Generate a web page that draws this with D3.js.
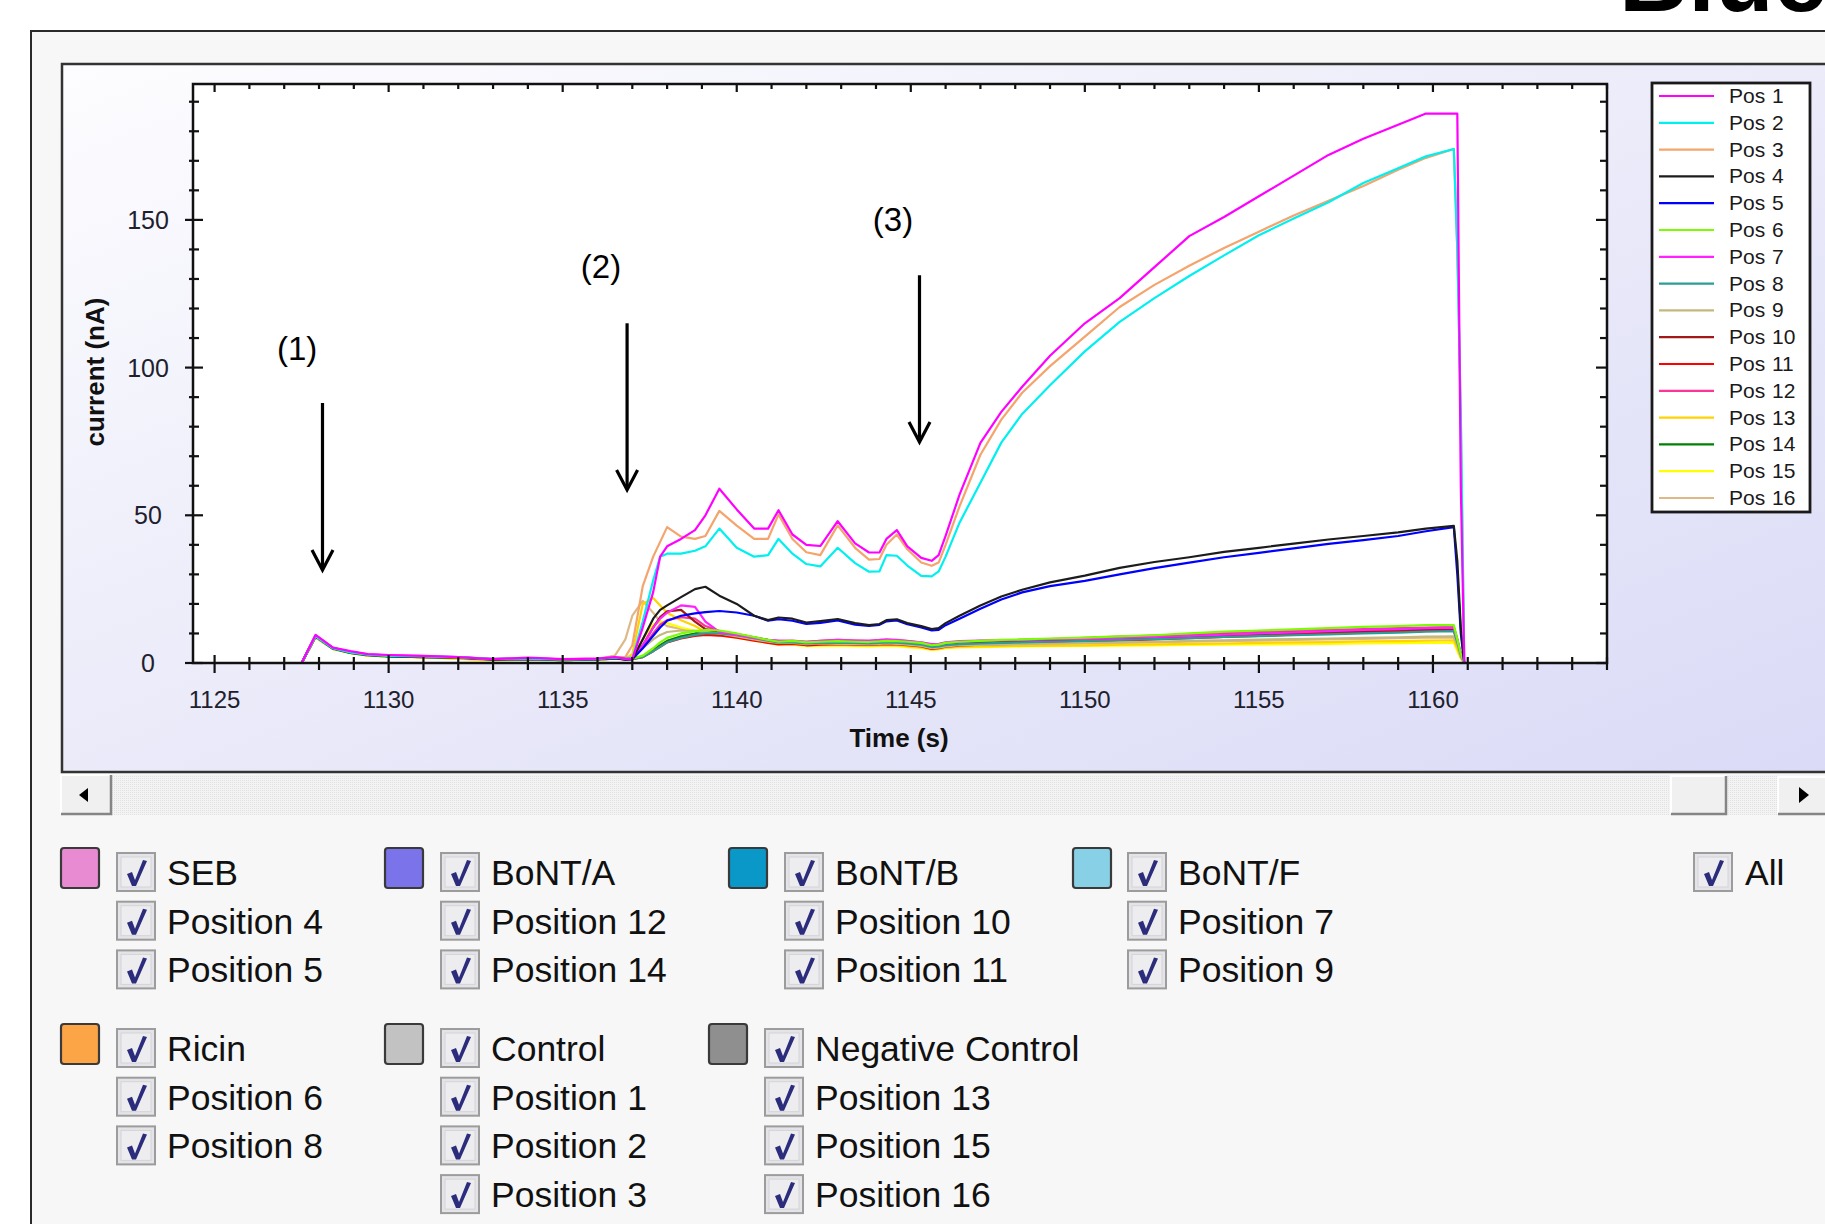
<!DOCTYPE html>
<html>
<head>
<meta charset="utf-8">
<script src="https://cdn.jsdelivr.net/npm/d3@7"></script>
<style>
  html, body { margin: 0; padding: 0; background: #ffffff; }
  svg { display: block; }
  text { font-family: "Liberation Sans", Arial, sans-serif; }
</style>
</head>
<body>
<script>
// ---------------- DATA ----------------
const times = [1127.5, 1127.9, 1128.4, 1128.9, 1129.4, 1130.0, 1131.0, 1132.0, 1133.0, 1134.0, 1135.0, 1136.0, 1136.5,
  1136.8, 1137.0, 1137.3, 1137.6, 1137.8, 1138.0, 1138.4, 1138.8, 1139.1, 1139.5, 1140.0, 1140.5, 1140.9, 1141.2, 1141.6,
  1142.0, 1142.4, 1142.9, 1143.4, 1143.8, 1144.1, 1144.3, 1144.6, 1144.9, 1145.3, 1145.6, 1145.8, 1146.0, 1146.4, 1147.0,
  1147.6, 1148.2, 1149.0, 1150.0, 1151.0, 1152.0, 1153.0, 1154.0, 1155.0, 1156.0, 1157.0, 1158.0, 1159.0, 1159.8, 1160.6,
  1160.7, 1160.8, 1160.9];

const pos1 = [0, 9.5, 5.2, 4.0, 3.0, 2.7, 2.4, 2.0, 1.3, 1.8, 1.3, 1.5, 2.0,
  1.5, 1.3, 12, 24, 36, 39.5, 42, 45, 50, 59, 52, 45.5, 45.5, 51.7, 43.5, 40, 39.6, 48, 40.5, 37.4, 37.4, 42, 45, 39.5, 35.6, 34.6, 36.5, 43, 57, 74.5, 85, 93.5, 104, 115, 123.5, 134, 144.5, 151, 158, 165, 172, 177.5, 182.2, 186, 186, 186, 60, 0];
const pos2 = [0, 9.2, 5.0, 3.6, 2.8, 2.4, 2.3, 2.0, 1.4, 1.5, 1.2, 1.4, 1.8,
  1.5, 1.5, 14, 28, 36, 37, 37, 38, 39.5, 45.5, 39, 36, 36.5, 42, 37, 33.5, 32.7, 39, 33.8, 30.9, 31, 36.5, 36.3, 33, 29.5, 29.3, 31, 36, 47.5, 61, 74.6, 84.3, 94, 105.5, 115.5, 123.5, 131, 138, 144.8, 150.5, 156, 162.5, 167.5, 171.5, 174, 140, 84, 0];
const pos3 = [0, 9.0, 5.1, 3.7, 2.9, 2.5, 2.2, 1.9, 1.4, 1.6, 1.2, 1.5, 2.0,
  2, 6, 26, 36, 41, 46, 42.8, 42, 43, 51.5, 46.5, 42, 42, 50.3, 42, 37.5, 36.5, 46.6, 39, 35, 35.2, 40, 43.5, 38.5, 34, 32.9, 34, 40, 53, 70.5, 82.4, 91.5, 100.5, 110.5, 120.5, 128, 134.5, 140.5, 146, 151.5, 156.5, 161.5, 167, 171, 174, 140, 84, 0];
const pos4 = [0, 9.1, 5.0, 3.5, 2.7, 2.3, 2.1, 1.8, 1.2, 1.4, 1.1, 1.3, 1.6,
  1.2, 1.3, 8, 15, 18, 19.5, 22.3, 25, 25.8, 22.8, 20, 16, 14.5, 15.4, 15, 13.7, 14.2, 14.9, 13.5, 12.8, 13.2, 14.5, 14.8, 13.5, 12.5, 11.5, 11.8, 13.5, 16, 19.5, 22.5, 24.8, 27.3, 29.6, 32.2, 34.2, 35.8, 37.6, 39, 40.4, 41.8, 43, 44.2, 45.5, 46.4, 34.6, 12, 0];
const pos5 = [0, 9.0, 4.9, 3.5, 2.7, 2.3, 2.1, 1.9, 1.2, 1.4, 1.1, 1.3, 1.6,
  1.2, 1.3, 5, 9.2, 12, 14.3, 16, 16.8, 17.2, 17.6, 17.1, 16, 14.3, 14.8, 14.3, 13.2, 13.6, 14.4, 13, 12.6, 12.9, 14.1, 14.4, 13.1, 12, 11, 11.2, 12.8, 15, 18.4, 21.5, 23.9, 26, 27.8, 30, 32.1, 34, 35.8, 37.3, 38.8, 40.3, 41.6, 43, 44.6, 46, 30, 10, 0];
const pos6 = [0, 8.8, 4.8, 3.4, 2.6, 2.2, 2.0, 1.7, 1.1, 1.3, 1.0, 1.2, 1.5,
  1.4, 1.5, 2.5, 5, 7, 8.5, 10, 10.8, 11.2, 11, 10, 8.8, 7.8, 7.2, 7.5, 7, 7.2, 7.4, 7.2, 7.1, 7.3, 7.5, 7.4, 7.2, 6.8, 6, 6.2, 6.8, 7.2, 7.5, 7.8, 8, 8.3, 8.6, 9, 9.4, 10, 10.6, 11, 11.4, 11.8, 12.2, 12.5, 12.8, 12.8, 8, 3, 0];
const pos7 = [0, 9.4, 5.1, 3.8, 2.9, 2.6, 2.3, 2.0, 1.3, 1.7, 1.2, 1.5, 1.9,
  1.5, 1.6, 6, 12, 15, 17, 19.5, 19, 14, 10.5, 9.5, 8.5, 7.8, 7.6, 7.4, 7.2, 7.5, 7.8, 7.6, 7.6, 7.8, 8, 7.8, 7.5, 7, 6.4, 6.5, 7, 7.4, 7.6, 7.7, 7.8, 8, 8.2, 8.5, 8.8, 9.2, 9.6, 10, 10.4, 10.8, 11.2, 11.5, 11.8, 12, 8, 3, 0];
const pos8 = [0, 8.9, 4.9, 3.5, 2.7, 2.3, 2.0, 1.8, 1.2, 1.4, 1.0, 1.2, 1.5,
  1.3, 1.4, 2, 4, 5.5, 7, 8.5, 9.5, 10, 10, 9.4, 8.4, 7.6, 7, 7, 6.6, 6.8, 6.9, 6.8, 6.6, 6.8, 7, 6.9, 6.6, 6.2, 5.4, 5.6, 6, 6.4, 6.6, 6.8, 7, 7.2, 7.5, 7.8, 8.1, 8.4, 8.8, 9.1, 9.4, 9.7, 10, 10.3, 10.6, 10.8, 7, 3, 0];
const pos9 = [0, 8.7, 4.8, 3.4, 2.6, 2.2, 2.0, 1.7, 1.1, 1.3, 1.0, 1.2, 1.6,
  1.6, 2, 5, 8, 9.5, 10.5, 11, 10.8, 10.5, 10, 9, 8, 7.2, 6.8, 6.8, 6.4, 6.6, 6.5, 6.4, 6.3, 6.5, 6.6, 6.5, 6.2, 5.8, 5, 5.2, 5.6, 6, 6.1, 6.2, 6.4, 6.6, 6.8, 7, 7.2, 7.5, 7.7, 7.9, 8.1, 8.3, 8.5, 8.7, 8.9, 9, 6, 2, 0];
const pos10 = [0, 9.0, 5.0, 3.5, 2.7, 2.3, 2.1, 1.8, 1.2, 1.4, 1.1, 1.3, 1.6,
  1.3, 1.5, 6, 12, 15.5, 17.5, 18, 14, 11.5, 10.5, 9.5, 8.2, 7.2, 6.8, 7, 6.5, 6.7, 6.8, 6.6, 6.6, 6.8, 7, 6.8, 6.5, 6, 5.2, 5.4, 6, 6.5, 6.8, 7, 7.2, 7.5, 7.9, 8.3, 8.7, 9.1, 9.5, 9.9, 10.3, 10.6, 10.9, 11.2, 11.5, 11.6, 7, 3, 0];
const pos11 = [0, 8.9, 4.9, 3.4, 2.6, 2.2, 2.0, 1.7, 1.1, 1.3, 1.0, 1.2, 1.5,
  1.2, 1.3, 2, 4, 5.5, 7, 8.3, 9.2, 9.5, 9.3, 8.6, 7.6, 6.8, 6.3, 6.5, 6, 6.2, 6.4, 6.2, 6.1, 6.3, 6.4, 6.3, 6, 5.6, 4.8, 5, 5.5, 5.9, 6.2, 6.4, 6.6, 6.9, 7.2, 7.6, 8, 8.4, 8.8, 9.2, 9.6, 10, 10.3, 10.6, 10.9, 11, 7, 3, 0];
const pos12 = [0, 9.2, 5.1, 3.6, 2.8, 2.4, 2.2, 1.9, 1.3, 1.5, 1.2, 1.4, 1.7,
  1.4, 1.5, 5, 10, 13, 14.5, 15.5, 15, 12.5, 10.8, 9.6, 8.6, 7.8, 7.4, 7.6, 7.2, 7.5, 7.8, 7.6, 7.4, 7.6, 7.8, 7.7, 7.4, 6.9, 6.2, 6.3, 6.8, 7.2, 7.5, 7.6, 7.8, 8.1, 8.5, 8.9, 9.3, 9.7, 10.1, 10.5, 10.9, 11.2, 11.5, 11.8, 12, 12.2, 8, 3, 0];
const pos13 = [0, 8.8, 4.8, 3.4, 2.6, 2.2, 2.0, 1.5, 1.0, 1.2, 1.0, 1.2, 1.6,
  1.5, 3, 20, 22, 19.5, 17, 14.5, 12.5, 10.5, 9.5, 8.8, 7.8, 7, 6.5, 6.6, 6, 6.1, 6.2, 6, 5.9, 6, 6.1, 6, 5.7, 5.3, 4.6, 4.8, 5.2, 5.5, 5.6, 5.7, 5.8, 5.9, 6, 6.2, 6.3, 6.5, 6.6, 6.8, 7, 7.1, 7.3, 7.4, 7.6, 7.7, 5, 2, 0];
const pos14 = [0, 8.9, 4.9, 3.5, 2.7, 2.3, 2.0, 1.8, 1.2, 1.4, 1.0, 1.2, 1.5,
  1.3, 1.4, 2.2, 4.5, 6, 7.5, 9, 10, 10.6, 10.6, 9.8, 8.7, 7.8, 7.2, 7.2, 6.8, 7, 7.1, 7, 6.9, 7.1, 7.2, 7.1, 6.8, 6.3, 5.2, 5, 5.8, 6.3, 6.6, 6.9, 7.1, 7.4, 7.8, 8.2, 8.6, 9, 9.4, 9.8, 10.2, 10.5, 10.8, 11.1, 11.4, 11.5, 7, 3, 0];
const pos15 = [0, 8.7, 4.7, 3.3, 2.5, 2.1, 1.9, 1.4, 0.9, 1.1, 0.9, 1.1, 1.5,
  1.5, 2, 8, 13, 14, 13.5, 12, 10.8, 10, 9.5, 8.6, 7.6, 6.8, 6.2, 6.2, 5.7, 5.8, 5.9, 5.7, 5.6, 5.7, 5.8, 5.7, 5.4, 5, 4.4, 4.6, 5, 5.3, 5.4, 5.5, 5.6, 5.7, 5.8, 5.9, 6, 6.1, 6.2, 6.3, 6.4, 6.5, 6.6, 6.7, 6.8, 6.9, 4, 1.5, 0];
const pos16 = [0, 8.8, 4.8, 3.4, 2.6, 2.2, 2.0, 1.7, 1.1, 1.3, 1.1, 1.4, 2.5,
  8, 16, 21, 17, 14, 12.5, 11.5, 11, 10.5, 10, 9, 8, 7.2, 6.6, 6.7, 6.2, 6.4, 6.4, 6.2, 6.1, 6.3, 6.4, 6.3, 6, 5.6, 4.8, 4.9, 5.3, 5.7, 5.9, 6, 6.2, 6.4, 6.6, 6.8, 7, 7.2, 7.4, 7.6, 7.8, 8, 8.2, 8.4, 8.6, 8.7, 5, 2, 0];

const seriesValues = [pos1, pos2, pos3, pos4, pos5, pos6, pos7, pos8, pos9, pos10, pos11, pos12, pos13, pos14, pos15, pos16];
const seriesNumbers = [1, 2, 3, 4, 5, 6, 7, 8, 9, 10, 11, 12, 13, 14, 15, 16];
const seriesColors = ["#ff00ff", "#00f0f0", "#f4a46c", "#1c1c1c", "#0000ff", "#7cfc00", "#ff22ff", "#2a9d96",
  "#c4b87c", "#a01818", "#ff0000", "#ff3399", "#ffd200", "#008000", "#ffff00", "#deb887"];

const xMajorTicks = [1125, 1130, 1135, 1140, 1145, 1150, 1155, 1160];
const yMajorTicks = [0, 50, 100, 150];
const xTitle = "Time (s)";
const yTitle = "current (nA)";

const annoLabels = ["(1)", "(2)", "(3)"];
const annoArrowTime = [1128.1, 1136.85, 1145.25];
const annoArrowTop = [88, 115, 131.3];
const annoArrowTip = [31.5, 58.6, 74.8];
const annoLabelTime = [1127.37, 1136.1, 1144.49];
const annoLabelValue = [102.6, 130.3, 146.2];

const groupNames = ["SEB", "BoNT/A", "BoNT/B", "BoNT/F", "Ricin", "Control", "Negative Control"];
const groupColors = ["#e98bd3", "#7b73ea", "#0a98c9", "#88d0e6", "#fba547", "#c2c2c2", "#8f8f8f"];
const groupItems = [
  ["Position 4", "Position 5"],
  ["Position 12", "Position 14"],
  ["Position 10", "Position 11"],
  ["Position 7", "Position 9"],
  ["Position 6", "Position 8"],
  ["Position 1", "Position 2", "Position 3"],
  ["Position 13", "Position 15", "Position 16"]
];

// ---------------- LAYOUT ----------------
const W = 1825, H = 1224;
const plot = { left: 193, right: 1607, top: 84, bottom: 663 };

const svg = d3.select("body").append("svg").attr("width", W).attr("height", H);
const defs = svg.append("defs");

const grad = defs.append("linearGradient").attr("id", "panelGrad")
  .attr("x1", 0).attr("y1", 0).attr("x2", 1).attr("y2", 1);
grad.append("stop").attr("offset", 0).attr("stop-color", "#fdfdff");
grad.append("stop").attr("offset", 0.45).attr("stop-color", "#ececfa");
grad.append("stop").attr("offset", 1).attr("stop-color", "#dadaf7");

const pat = defs.append("pattern").attr("id", "dots").attr("width", 2).attr("height", 2)
  .attr("patternUnits", "userSpaceOnUse");
pat.append("rect").attr("width", 2).attr("height", 2).attr("fill", "#f3f3f3");
pat.append("rect").attr("width", 1).attr("height", 1).attr("fill", "#e2e2e2");

defs.append("clipPath").attr("id", "plotClip").append("rect")
  .attr("x", plot.left).attr("y", plot.top)
  .attr("width", plot.right - plot.left).attr("height", plot.bottom - plot.top);

// "Blue" heading cut at the top (as in the reference)
svg.append("text").attr("x", 1619).attr("y", 11)
  .attr("font-size", 96).attr("font-weight", "bold").attr("fill", "#000")
  .text("Blue");

// outer panel
svg.append("rect").attr("x", 31).attr("y", 31).attr("width", W).attr("height", H)
  .attr("fill", "#f7f7f7").attr("stroke", "#2a2a2a").attr("stroke-width", 2);

// chart panel
svg.append("rect").attr("x", 62).attr("y", 64).attr("width", W).attr("height", 708)
  .attr("fill", "url(#panelGrad)").attr("stroke", "#333").attr("stroke-width", 2.5);

// plot area
svg.append("rect").attr("x", plot.left).attr("y", plot.top)
  .attr("width", plot.right - plot.left).attr("height", plot.bottom - plot.top)
  .attr("fill", "#ffffff");

const x = d3.scaleLinear().domain([1124.38, 1165.0]).range([plot.left, plot.right]);
const y = d3.scaleLinear().domain([0, 196]).range([plot.bottom, plot.top]);

// lines
const line = d3.line().x((d, i) => x(times[i])).y(d => y(d));
const gLines = svg.append("g").attr("clip-path", "url(#plotClip)");
const order = d3.range(seriesValues.length).reverse();
gLines.selectAll("path").data(order).join("path")
  .attr("d", i => line(seriesValues[i]))
  .attr("fill", "none")
  .attr("stroke", i => seriesColors[i])
  .attr("stroke-width", 2.2)
  .attr("stroke-linejoin", "round");

// plot border
svg.append("rect").attr("x", plot.left).attr("y", plot.top)
  .attr("width", plot.right - plot.left).attr("height", plot.bottom - plot.top)
  .attr("fill", "none").attr("stroke", "#111").attr("stroke-width", 2.5);

// ticks
const xd = x.domain(), yd = y.domain();
const xMinor = d3.range(Math.ceil(xd[0]), Math.floor(xd[1]) + 1).filter(v => !xMajorTicks.includes(v));
const yMinor = d3.range(0, yd[1], 10).filter(v => !yMajorTicks.includes(v));
const gT = svg.append("g").attr("stroke", "#111").attr("stroke-width", 2.2);
xMajorTicks.forEach(v => {
  gT.append("line").attr("x1", x(v)).attr("x2", x(v)).attr("y1", plot.bottom - 8).attr("y2", plot.bottom + 10);
  gT.append("line").attr("x1", x(v)).attr("x2", x(v)).attr("y1", plot.top).attr("y2", plot.top + 8);
});
xMinor.forEach(v => {
  gT.append("line").attr("x1", x(v)).attr("x2", x(v)).attr("y1", plot.bottom - 6).attr("y2", plot.bottom + 7);
  gT.append("line").attr("x1", x(v)).attr("x2", x(v)).attr("y1", plot.top).attr("y2", plot.top + 5);
});
yMajorTicks.forEach(v => {
  gT.append("line").attr("y1", y(v)).attr("y2", y(v)).attr("x1", plot.left - 8).attr("x2", plot.left + 10);
  gT.append("line").attr("y1", y(v)).attr("y2", y(v)).attr("x1", plot.right - 11).attr("x2", plot.right);
});
yMinor.forEach(v => {
  gT.append("line").attr("y1", y(v)).attr("y2", y(v)).attr("x1", plot.left - 4).attr("x2", plot.left + 6);
  gT.append("line").attr("y1", y(v)).attr("y2", y(v)).attr("x1", plot.right - 7).attr("x2", plot.right);
});

// tick labels
svg.append("g").selectAll("text").data(xMajorTicks).join("text")
  .attr("x", d => x(d)).attr("y", 708).attr("text-anchor", "middle")
  .attr("font-size", 24).attr("fill", "#20202c").text(d => d);
svg.append("g").selectAll("text").data(yMajorTicks).join("text")
  .attr("x", 148).attr("y", d => y(d) + 9).attr("text-anchor", "middle")
  .attr("font-size", 25).attr("fill", "#20202c").text(d => d);

// axis titles
svg.append("text").attr("x", 899).attr("y", 747).attr("text-anchor", "middle")
  .attr("font-size", 26).attr("font-weight", "bold").attr("fill", "#111").text(xTitle);
svg.append("text").attr("transform", "translate(104,372) rotate(-90)").attr("text-anchor", "middle")
  .attr("font-size", 26).attr("font-weight", "bold").attr("fill", "#111").text(yTitle);

// annotations
annoLabels.forEach((lab, i) => {
  const ax = x(annoArrowTime[i]);
  const yTop = y(annoArrowTop[i]), yTip = y(annoArrowTip[i]);
  svg.append("line").attr("x1", ax).attr("x2", ax).attr("y1", yTop).attr("y2", yTip - 1)
    .attr("stroke", "#000").attr("stroke-width", 3.2);
  svg.append("path").attr("d", `M${ax - 10.5},${yTip - 20} L${ax},${yTip} L${ax + 10.5},${yTip - 20}`)
    .attr("fill", "none").attr("stroke", "#000").attr("stroke-width", 3.2);
  svg.append("text").attr("x", x(annoLabelTime[i])).attr("y", y(annoLabelValue[i]))
    .attr("text-anchor", "middle").attr("font-size", 33).attr("fill", "#000").text(lab);
});

// legend box
const lg = { x: 1652, y: 83, w: 158, h: 429, row0: 96, step: 26.8 };
svg.append("rect").attr("x", lg.x).attr("y", lg.y).attr("width", lg.w).attr("height", lg.h)
  .attr("fill", "#fff").attr("stroke", "#1a1a1a").attr("stroke-width", 2.8);
const lgRows = svg.append("g").selectAll("g").data(seriesNumbers).join("g")
  .attr("transform", (d, i) => `translate(0,${lg.row0 + i * lg.step})`);
lgRows.append("line").attr("x1", 1659).attr("x2", 1714).attr("y1", 0).attr("y2", 0)
  .attr("stroke", (d, i) => seriesColors[i]).attr("stroke-width", 2.2);
lgRows.append("text").attr("x", 1729).attr("y", 7).attr("font-size", 21).attr("fill", "#1a1a1a").text("Pos");
lgRows.append("text").attr("x", 1772).attr("y", 7).attr("font-size", 21).attr("fill", "#1a1a1a").text(d => d);

// scrollbar
function button3d(bx, by, bw, bh) {
  svg.append("rect").attr("x", bx).attr("y", by).attr("width", bw).attr("height", bh).attr("fill", "#f0f0f0");
  svg.append("path").attr("d", `M${bx},${by + bh} L${bx},${by} L${bx + bw},${by}`)
    .attr("fill", "none").attr("stroke", "#ffffff").attr("stroke-width", 2);
  svg.append("path").attr("d", `M${bx},${by + bh} L${bx + bw},${by + bh} L${bx + bw},${by}`)
    .attr("fill", "none").attr("stroke", "#858585").attr("stroke-width", 2.5);
}
svg.append("rect").attr("x", 111).attr("y", 775).attr("width", 1667).attr("height", 40).attr("fill", "url(#dots)");
button3d(61, 775, 50, 39);
svg.append("path").attr("d", "M79,795 L88,788 L88,802 Z").attr("fill", "#000");
button3d(1671, 776, 55, 38);
button3d(1778, 777, 60, 37);
svg.append("path").attr("d", "M1799,787 L1809,795 L1799,803 Z").attr("fill", "#000");

// check legend
function checkbox(cx, cy) {
  const s = 38, bx = cx, by = cy - s / 2;
  svg.append("rect").attr("x", bx).attr("y", by).attr("width", s).attr("height", s)
    .attr("fill", "#e4e4e8").attr("stroke", "#9c9c9c").attr("stroke-width", 2);
  svg.append("rect").attr("x", bx + 4).attr("y", by + 4).attr("width", s - 8).attr("height", s - 8)
    .attr("fill", "#ededf0").attr("stroke", "#d4d4d8").attr("stroke-width", 1);
  svg.append("path")
    .attr("d", `M${bx + 10},${by + 21} L${bx + 15},${by + 19} L${bx + 18},${by + 27} L${bx + 26},${by + 7} L${bx + 30},${by + 8} L${bx + 19},${by + 33} L${bx + 15},${by + 33} Z`)
    .attr("fill", "#2c2c7c");
}
function swatch(sx, cy, color) {
  svg.append("rect").attr("x", sx).attr("y", cy - 24).attr("width", 38).attr("height", 40).attr("rx", 3)
    .attr("fill", color).attr("stroke", "#3a3a3a").attr("stroke-width", 2.2);
}
function label(tx, cy, txt) {
  svg.append("text").attr("x", tx).attr("y", cy + 13).attr("font-size", 35.5)
    .attr("fill", "#111").text(txt);
}
const rowStep = 48.7;
const groupSwatchX = [61, 385, 729, 1073, 61, 385, 709];
const groupBoxX = [117, 441, 785, 1128, 117, 441, 765];
const groupRowY = [872, 872, 872, 872, 1048, 1048, 1048];
groupNames.forEach((name, g) => {
  swatch(groupSwatchX[g], groupRowY[g], groupColors[g]);
  const rows = [name].concat(groupItems[g]);
  rows.forEach((txt, r) => {
    const cy = groupRowY[g] + r * rowStep;
    checkbox(groupBoxX[g], cy);
    label(groupBoxX[g] + 50, cy, txt);
  });
});
checkbox(1694, 872);
label(1745, 872, "All");
</script>
</body>
</html>
